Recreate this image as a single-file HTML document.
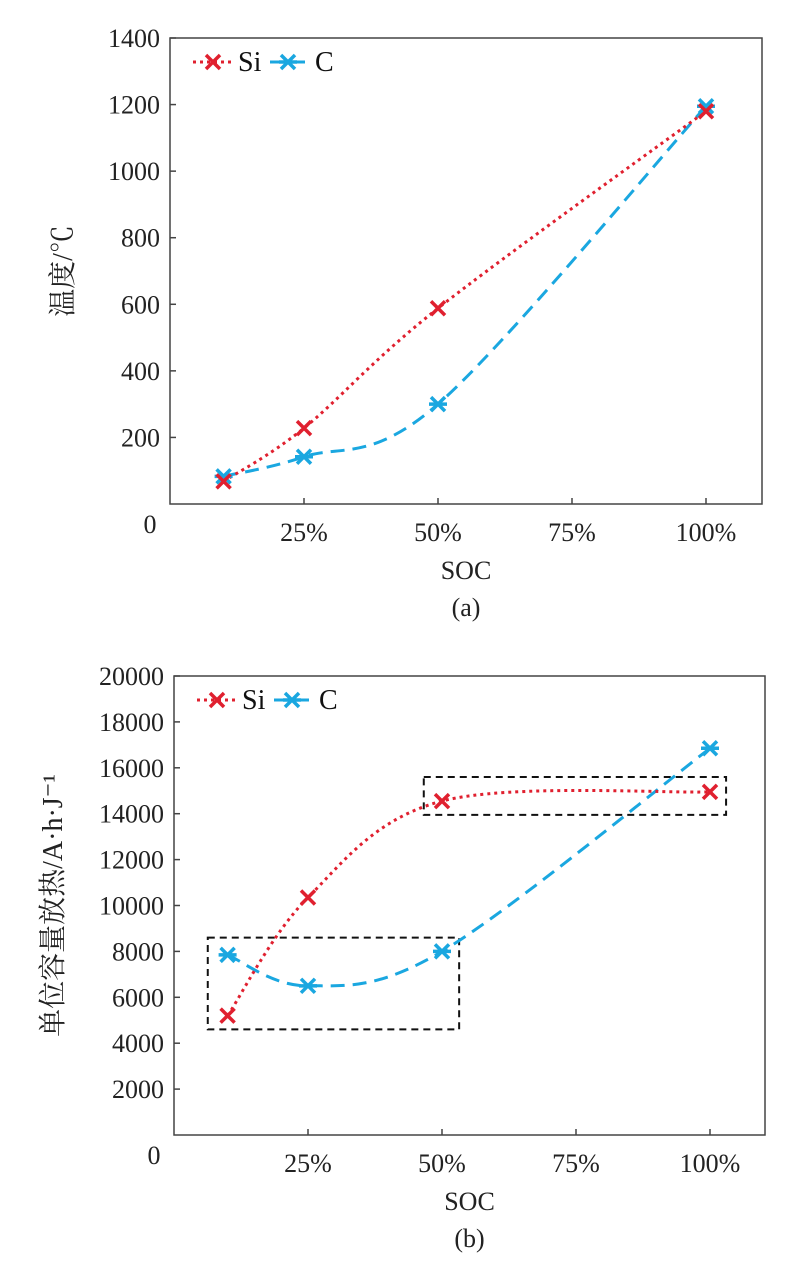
<!DOCTYPE html>
<html><head><meta charset="utf-8"><style>
body{margin:0;background:#fff;}
svg{display:block;font-family:"Liberation Serif","Noto Serif CJK SC",serif;}
</style></head><body>
<svg id="s" width="804" height="1275" viewBox="0 0 804 1275"></svg>
<script>
const xCats=[10,25,50,100];
const xTicks=[25,50,75,100];
const xTickLabels=["25%","50%","75%","100%"];
const aSi=[68,228,588,1180];
const aC=[83,142,300,1195];
const aTicks=[200,400,600,800,1000,1200,1400];
const bSi=[5200,10350,14550,14950];
const bC=[7850,6500,8000,16850];
const bTicks=[2000,4000,6000,8000,10000,12000,14000,16000,18000,20000];
const bBoxes=[[6.3,53.2,4600,8600],[46.6,103,13950,15600]];
const NS="http://www.w3.org/2000/svg";
const svg=document.getElementById('s');
function el(t,a,p){const e=document.createElementNS(NS,t);for(const k in a)e.setAttribute(k,a[k]);(p||svg).appendChild(e);return e;}
function spline(pts){let d=`M${pts[0][0]},${pts[0][1]}`;for(let i=0;i<pts.length-1;i++){const p0=pts[Math.max(0,i-1)],p1=pts[i],p2=pts[i+1],p3=pts[Math.min(pts.length-1,i+2)];const t=1/3;
const c1=[p1[0]+(p2[0]-p0[0])*t/2,p1[1]+(p2[1]-p0[1])*t/2],c2=[p2[0]-(p3[0]-p1[0])*t/2,p2[1]-(p3[1]-p1[1])*t/2];d+=`C${c1},${c2},${p2}`;}return d;}
function xMark(g,x,y,col,star){el('path',{d:`M${x-7},${y-7}L${x+7},${y+7}M${x+7},${y-7}L${x-7},${y+7}`+(star?`M${x-9},${y}L${x+9},${y}`:''),stroke:col,'stroke-width':3.5,fill:'none'},g);}
function chart(o){
 const g=el('g',{});
 const sx=v=>o.x0+v*o.pxPer;
 const sy=v=>o.y0-(o.y0-o.yTop)*v/o.yMax;
 const frame=el('rect',{x:o.x0,y:o.yTop,width:o.x1-o.x0,height:o.y0-o.yTop,fill:'none',stroke:'#444','stroke-width':1.5},g);
 
 o.yTicks.forEach(v=>{const y=sy(v);el('line',{x1:o.x0,x2:o.x0+6,y1:y,y2:y,stroke:'#444','stroke-width':1.5},g);
  const t=el('text',{x:o.x0-10,y:y+9,'text-anchor':'end','font-size':26,fill:'#222'},g);t.textContent=v;
  });
 const z=el('text',{x:o.x0-20,y:o.y0+29,'font-size':26,fill:'#222','text-anchor':'middle'},g);z.textContent='0';
 xTicks.forEach((v,i)=>{const x=sx(v);el('line',{x1:x,x2:x,y1:o.y0,y2:o.y0-6,stroke:'#444','stroke-width':1.5},g);
  const t=el('text',{x:x,y:o.y0+37,'text-anchor':'middle','font-size':26,fill:'#222'},g);t.textContent=xTickLabels[i];
  });
 const xt=el('text',{x:(o.x0+o.x1)/2,y:o.y0+75,'text-anchor':'middle','font-size':26,fill:'#222'},g);xt.textContent='SOC';
 
 const cap=el('text',{x:(o.x0+o.x1)/2,y:o.y0+112,'text-anchor':'middle','font-size':26,fill:'#222'},g);cap.textContent=o.cap;
 
 const yt=el('text',{x:0,y:0,'text-anchor':'middle','font-size':o.ytsize,fill:'#222',transform:`translate(${o.ytx},${(o.yTop+o.y0)/2}) rotate(-90)`},g);yt.textContent=o.ytitle;
 
 (o.boxes||[]).forEach(b=>{const r=el('rect',{x:sx(b[0]),y:sy(b[3]),width:sx(b[1])-sx(b[0]),height:sy(b[2])-sy(b[3]),fill:'none',stroke:'#111','stroke-width':2,'stroke-dasharray':'7,5'},g);
  });
 const cp=xCats.map((c,i)=>[sx(c),sy(o.c[i])]),sp=xCats.map((c,i)=>[sx(c),sy(o.si[i])]);
 const lc=el('path',{d:spline(cp),fill:'none',stroke:'#1aa7e0','stroke-width':3,'stroke-dasharray':'14,8'},g);
 
 const ls=el('path',{d:spline(sp),fill:'none',stroke:'#e0202f','stroke-width':3,'stroke-dasharray':'3,4'},g);
 
 cp.forEach(p=>xMark(g,p[0],p[1],'#1aa7e0',true));
 sp.forEach(p=>xMark(g,p[0],p[1],'#e0202f',false));
 const lg=el('g',{},g);
 const ly=o.yTop+24,lx=o.x0+23;
 el('line',{x1:lx,x2:lx+40,y1:ly,y2:ly,stroke:'#e0202f','stroke-width':3,'stroke-dasharray':'3,4'},lg);xMark(lg,lx+20,ly,'#e0202f',false);
 const t1=el('text',{x:lx+45,y:ly+9,'font-size':28,fill:'#111'},lg);t1.textContent='Si';
 el('line',{x1:lx+77,x2:lx+112,y1:ly,y2:ly,stroke:'#1aa7e0','stroke-width':3},lg);xMark(lg,lx+95,ly,'#1aa7e0',true);
 const t2=el('text',{x:lx+122,y:ly+9,'font-size':28,fill:'#111'},lg);t2.textContent='C';
}
chart({name:'chart-a',x0:170,x1:762,y0:504,yTop:38,yMax:1400,pxPer:5.36,yTicks:aTicks,si:aSi,c:aC,cap:'(a)',ytitle:'温度/℃',ytx:72,ytsize:28});
chart({name:'chart-b',x0:174,x1:765,y0:1135,yTop:676,yMax:20000,pxPer:5.36,yTicks:bTicks,si:bSi,c:bC,cap:'(b)',ytitle:'单位容量放热/A·h·J⁻¹',ytx:62,ytsize:28,boxes:bBoxes});
</script>
</body></html>
